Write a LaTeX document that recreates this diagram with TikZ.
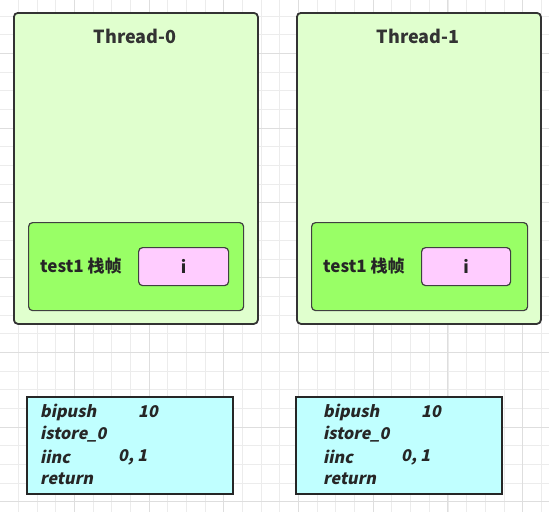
\documentclass[tikz,border=0pt]{standalone}
\usepackage{fontspec}
\setmainfont{Noto Sans CJK SC}
\newfontfamily\codefont{Noto Sans CJK SC}[FakeSlant=0.2]
\begin{document}
\begin{tikzpicture}[x=1pt,y=-1pt,
  thread/.style={draw=black!80,line width=1.8pt,rounded corners=4pt,fill=outergreen},
  frame/.style={draw=black!75,line width=1.2pt,rounded corners=4pt,fill=innergreen},
  slot/.style={draw=black!75,line width=1.2pt,rounded corners=4pt,fill=slotpink},
  code/.style={draw=black!85,line width=1.8pt,fill=codecyan},
  ttl/.style={font=\fontsize{18}{21}\selectfont\bfseries,text=black!80},
  lbl/.style={font=\fontsize{17}{20}\selectfont\bfseries,text=black!85},
  codetxt/.style={font=\fontsize{16.2}{19}\selectfont\codefont\bfseries,text=black!85,anchor=west,inner sep=0pt}
]
\definecolor{outergreen}{RGB}{224,255,206}
\definecolor{innergreen}{RGB}{153,255,102}
\definecolor{slotpink}{RGB}{255,204,255}
\definecolor{codecyan}{RGB}{192,255,255}
\definecolor{gridminor}{RGB}{236,236,236}
\definecolor{gridmajor}{RGB}{222,222,222}
\useasboundingbox (0,0) rectangle (549,512);
\fill[white] (0,0) rectangle (549,512);
% grid
\foreach \i in {0,...,29} {
  \draw[gridminor,line width=0.6pt] ({-0.5+18.68*\i},0) -- ({-0.5+18.68*\i},512);
  \draw[gridminor,line width=0.6pt] (0,{-2.7+18.68*\i}) -- (549,{-2.7+18.68*\i});
}
\foreach \i in {0,...,7} {
  \draw[gridmajor,line width=0.7pt] ({-0.5+74.72*\i},0) -- ({-0.5+74.72*\i},512);
  \draw[gridmajor,line width=0.7pt] (0,{-21.4+74.72*\i}) -- (549,{-21.4+74.72*\i});
}
% threads
\node[thread,minimum width=244pt,minimum height=311pt,anchor=north west,inner sep=0pt] (t0) at (13,12) {};
\node[thread,minimum width=244pt,minimum height=311pt,anchor=north west,inner sep=0pt] (t1) at (296,12) {};
\node[ttl] (t0title) at (135,36) {Thread-0};
\node[ttl] (t1title) at (418,36) {Thread-1};
% frames
\node[frame,minimum width=215pt,minimum height=88pt,anchor=north west,inner sep=0pt] (f0) at (28,222) {};
\node[frame,minimum width=216pt,minimum height=88pt,anchor=north west,inner sep=0pt] (f1) at (311,222) {};
\node[lbl,anchor=west,inner sep=0pt] (f0lab) at (40,266) {test1 栈帧};
\node[lbl,anchor=west,inner sep=0pt] (f1lab) at (323,266) {test1 栈帧};
\node[slot,minimum width=90pt,minimum height=38pt,anchor=north west,inner sep=0pt,lbl] (s0) at (138,247) {i};
\node[slot,minimum width=89pt,minimum height=38pt,anchor=north west,inner sep=0pt,lbl] (s1) at (421,247) {i};
% code boxes
\node[code,minimum width=206pt,minimum height=97pt,anchor=north west,inner sep=0pt] (c0) at (26,396) {};
\node[code,minimum width=206pt,minimum height=97pt,anchor=north west,inner sep=0pt] (c1) at (295,396) {};
\foreach \b/\x in {0/40,1/323} {
  \node[codetxt] (op1\b) at (\x,412) {bipush};
  \node[codetxt] (op2\b) at (\x,434.5) {istore\_0};
  \node[codetxt] (op3\b) at (\x,457) {iinc};
  \node[codetxt] (op4\b) at (\x,479) {return};
  \node[codetxt] (arg1\b) at (\x+98,412) {10};
  \node[codetxt] (arg3\b) at (\x+78,457) {0, 1};
}
\end{tikzpicture}
\end{document}
